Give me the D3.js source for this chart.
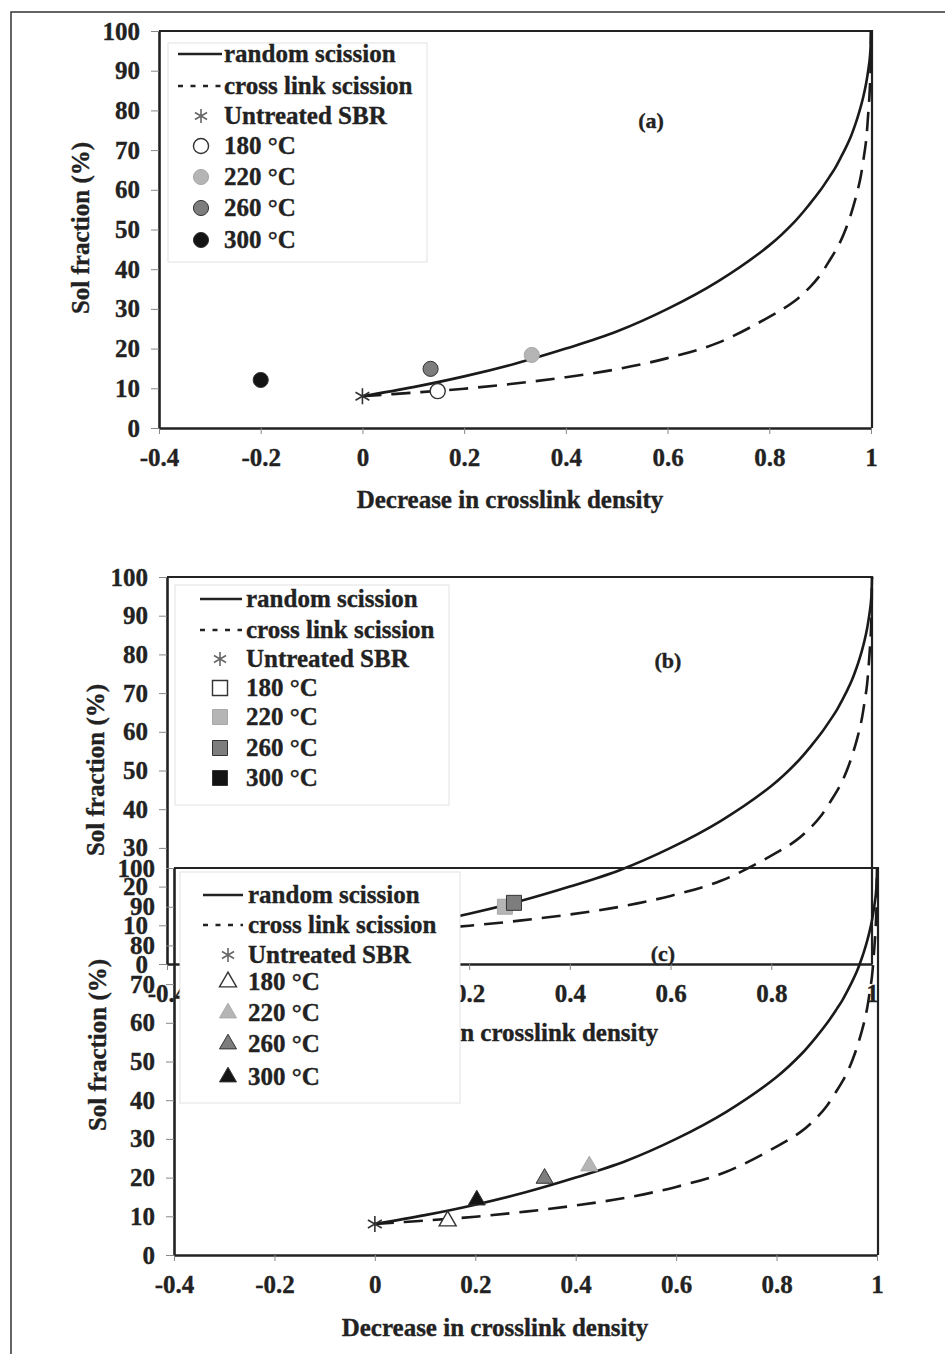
<!DOCTYPE html>
<html>
<head>
<meta charset="utf-8">
<script src="https://cdn.jsdelivr.net/npm/d3@7"></script>
<style>
    body { margin: 0; background: #fff; }
    svg text { font-family: "Liberation Serif", "Times New Roman", serif; font-weight: bold; fill: #222; stroke: #222; stroke-width: 0.35; }
</style>
</head>
<body>
<svg id="fig" width="945" height="1354"></svg>
<script>
// Values
var curve_x            = [0, 0.1, 0.2, 0.3, 0.4, 0.5, 0.6, 0.7, 0.8, 0.85, 0.88, 0.9, 0.92, 0.93, 0.94, 0.95, 0.96, 0.97, 0.975, 0.98, 0.985, 0.99, 0.995, 0.9975, 0.999, 1];
var random_scission    = [8, 10.3, 13, 16.2, 20, 24.3, 30, 37, 46, 52, 56.5, 59.8, 63.6, 65.6, 68, 70.5, 73.3, 76.8, 78.8, 81, 83.5, 86.5, 90.5, 93, 95.5, 100];
var crosslink_scission = [8, 8.9, 9.9, 11.2, 12.8, 14.8, 17.6, 21.5, 28, 32, 35.5, 38.5, 42.5, 44.6, 47, 50, 53.6, 58, 60.5, 63.5, 67.5, 72, 80, 85, 90, 100];

var x_ticks = [-0.4, -0.2, 0, 0.2, 0.4, 0.6, 0.8, 1];
var y_ticks = [0, 10, 20, 30, 40, 50, 60, 70, 80, 90, 100];

var line_labels = ["random scission", "cross link scission"];
var untreated_label = "Untreated SBR";
var temp_labels = ["180 °C", "220 °C", "260 °C", "300 °C"];
var temp_colors = ["#ffffff", "#b5b5b5", "#7d7d7d", "#141414"];

var untreated = [0, 8];

// measured points, order: 180, 220, 260, 300 °C (null = hidden under panel c)
var a_x = [0.148, 0.333, 0.134, -0.2];
var a_y = [9.3, 18.4, 14.9, 12.1];
var b_x = [null, 0.271, 0.289, null];
var b_y = [null, 14.8, 15.8, null];
var c_x = [0.145, 0.427, 0.338, 0.203];
var c_y = [8.8, 23.0, 19.8, 14.2];

var x_title = "Decrease in crosslink density";
var y_title = "Sol fraction (%)";

var svg = d3.select("#fig");

// outer border of the figure (top and left only in view)
svg.append("path")
    .attr("d", "M11,1354 L11,12 L945,12")
    .attr("fill", "none")
    .attr("stroke", "#333")
    .attr("stroke-width", 1.5);

var panels = [
    { name: "(a)", shape: "circle", px: a_x, py: a_y,
      xr: [159, 871], yr: [428, 31], right: 872,
      tag: [651, 128], ytitle: [80, 228], xtitle: [510, 508],
      legend: { box: [168, 43, 427, 262], line: [178, 222], mx: 201, tx: 224,
                rows: [54, 86, 116, 146, 177, 208, 240] } },
    { name: "(b)", shape: "square", px: b_x, py: b_y,
      xr: [167, 872], yr: [964, 577], right: 872,
      tag: [668, 668], ytitle: [95, 770], xtitle: [505, 1041],
      legend: { box: [175, 585, 449, 805], line: [200, 242], mx: 220, tx: 246,
                rows: [599, 630, 659, 688, 717, 748, 778] } },
    { name: "(c)", shape: "triangle", px: c_x, py: c_y,
      xr: [174, 877], yr: [1255, 868], right: 878,
      tag: [663, 961], ytitle: [97, 1045], xtitle: [495, 1336],
      legend: { box: [180, 872, 460, 1103], line: [203, 243], mx: 228, tx: 248,
                rows: [895, 925, 955, 982, 1013, 1044, 1077] } }
];

function asterisk(g, cx, cy, r, color) {
    var d = "";
    [90, 30, 150].forEach(function (deg) {
        var a = deg * Math.PI / 180;
        var dx = r * Math.cos(a), dy = r * Math.sin(a);
        d += "M" + (cx - dx) + "," + (cy - dy) + "L" + (cx + dx) + "," + (cy + dy);
    });
    g.append("path").attr("d", d).attr("stroke", color).attr("stroke-width", 1.6).attr("fill", "none");
}

function marker(g, shape, cx, cy, i) {
    var type = shape === "circle" ? d3.symbolCircle : (shape === "square" ? d3.symbolSquare : d3.symbolTriangle);
    var size = shape === "circle" ? 180 : (shape === "square" ? 225 : 125);
    g.append("path")
        .attr("d", d3.symbol().type(type).size(size)())
        .attr("transform", "translate(" + cx + "," + cy + ")")
        .attr("fill", temp_colors[i])
        .attr("stroke", i === 1 ? "#a8a8a8" : "#333")
        .attr("stroke-width", i === 0 ? 1.4 : 1);
}

function draw_panel(p) {
    var g = svg.append("g");
    var x = d3.scaleLinear().domain([-0.4, 1]).range(p.xr);
    var y = d3.scaleLinear().domain([0, 100]).range(p.yr);

    // frame top + right
    g.append("path")
        .attr("d", "M" + p.xr[0] + "," + p.yr[1] + "L" + p.right + "," + p.yr[1] + "L" + p.right + "," + p.yr[0])
        .attr("fill", "none").attr("stroke", "#222").attr("stroke-width", 2.2);

    var xa = g.append("g").attr("transform", "translate(0," + p.yr[0] + ")")
        .call(d3.axisBottom(x).tickValues(x_ticks).tickSize(6).tickSizeOuter(0).tickPadding(14)
            .tickFormat(function (d) { return String(d); }));
    var ya = g.append("g").attr("transform", "translate(" + p.xr[0] + ",0)")
        .call(d3.axisLeft(y).tickValues(y_ticks).tickSize(8).tickSizeOuter(0).tickPadding(11));
    [xa, ya].forEach(function (ax) {
        ax.select(".domain").attr("stroke", "#222").attr("stroke-width", 2.6);
        ax.selectAll(".tick line").attr("stroke", "#888").attr("stroke-width", 1);
        ax.selectAll(".tick text").attr("font-size", 25).attr("fill", "#222")
            .attr("font-family", "Liberation Serif, Times New Roman, serif").attr("font-weight", "bold");
    });

    g.append("text").attr("x", p.xtitle[0]).attr("y", p.xtitle[1])
        .attr("text-anchor", "middle").attr("font-size", 25).text(x_title);
    g.append("text")
        .attr("transform", "translate(" + p.ytitle[0] + "," + p.ytitle[1] + ") rotate(-90)")
        .attr("text-anchor", "middle").attr("dy", "0.35em").attr("font-size", 25).text(y_title);

    // theory curves
    var line = d3.line().curve(d3.curveCatmullRom.alpha(0.5));
    var pts_r = curve_x.map(function (v, i) { return [x(v), y(random_scission[i])]; });
    var pts_c = curve_x.map(function (v, i) { return [x(v), y(crosslink_scission[i])]; });
    g.append("path").attr("d", line(pts_r)).attr("fill", "none")
        .attr("stroke", "#1a1a1a").attr("stroke-width", 2.6);
    g.append("path").attr("d", line(pts_c)).attr("fill", "none")
        .attr("stroke", "#1a1a1a").attr("stroke-width", 2.6).attr("stroke-dasharray", "19,10");

    // data points
    asterisk(g, x(untreated[0]), y(untreated[1]), 8, "#333");
    p.px.forEach(function (v, i) {
        if (v === null) return;
        marker(g, p.shape, x(v), y(p.py[i]), i);
    });

    // legend
    var L = p.legend;
    var lg = svg.append("g");
    lg.append("rect").attr("x", L.box[0]).attr("y", L.box[1])
        .attr("width", L.box[2] - L.box[0]).attr("height", L.box[3] - L.box[1])
        .attr("fill", "#fff").attr("stroke", "#e2e2e2").attr("stroke-width", 1);
    lg.append("line").attr("x1", L.line[0]).attr("x2", L.line[1])
        .attr("y1", L.rows[0]).attr("y2", L.rows[0])
        .attr("stroke", "#222").attr("stroke-width", 2.6);
    lg.append("line").attr("x1", L.line[0]).attr("x2", L.line[1])
        .attr("y1", L.rows[1]).attr("y2", L.rows[1])
        .attr("stroke", "#222").attr("stroke-width", 2.6).attr("stroke-dasharray", "5,7.5");
    asterisk(lg, L.mx, L.rows[2], 7, "#666");
    temp_labels.forEach(function (t, i) {
        marker(lg, p.shape, L.mx, L.rows[3 + i], i);
    });
    var labels = line_labels.concat([untreated_label]).concat(temp_labels);
    labels.forEach(function (t, i) {
        lg.append("text").attr("x", L.tx).attr("y", L.rows[i]).attr("dy", "0.33em")
            .attr("font-size", 25).text(t);
    });

    svg.append("text").attr("x", p.tag[0]).attr("y", p.tag[1])
        .attr("text-anchor", "middle").attr("font-size", 22).text(p.name);
}

panels.forEach(draw_panel);
</script>
</body>
</html>
